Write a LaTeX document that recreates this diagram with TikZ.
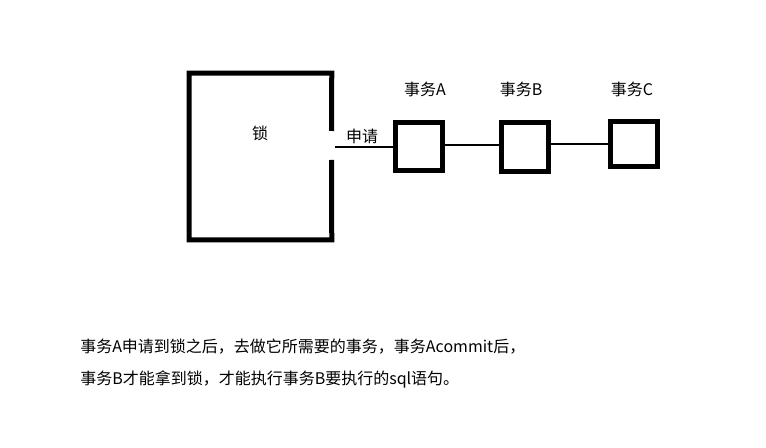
\documentclass[tikz,border=0pt]{standalone}
\usepackage{fontspec}
\setmainfont{Noto Sans CJK SC}
\begin{document}
\begin{tikzpicture}[x=0.75pt,y=-0.75pt,
  txt/.style={inner sep=0pt,font=\fontsize{12pt}{14pt}\selectfont},
  txbox/.style={draw,line width=3.75pt,inner sep=0pt,minimum width=35.25pt},
  conn/.style={line width=1.4pt}]
\useasboundingbox[fill=white] (0,0) rectangle (766,448);
% lock
\node (lock) [inner sep=0pt,minimum width=106.5pt,minimum height=124.5pt] at (260.5,156.5) {};
\coordinate (gapT) at (331.5,131);
\coordinate (gapB) at (331.5,160);
\draw[line width=3.75pt,line join=miter] (gapT) -- (lock.north east) -- (lock.north west) -- (lock.south west) -- (lock.south east) -- (gapB);
\node (lockl) [txt] at (260,133) {锁};
% transactions
\node (A) [txbox,minimum height=36pt] at (419,146.5) {};
\node (B) [txbox,minimum height=36.75pt] at (525,147) {};
\node (C) [txbox,minimum height=33.75pt] at (634,144) {};
\node (Al) [txt] at (425,89) {事务A};
\node (Bl) [txt] at (521,89) {事务B};
\node (Cl) [txt] at (632,89) {事务C};
\coordinate (gap) at (334.5,147);
\draw[conn] (gap) -- (A.west |- gap);
\node (req) [txt] at (362,136) {申请};
\coordinate (ab) at (0,145);
\coordinate (bc) at (0,144);
\draw[conn] (A.east |- ab) -- (B.west |- ab);
\draw[conn] (B.east |- bc) -- (C.west |- bc);
% description
\node (d1) [txt,anchor=base west] at (80,353) {事务A申请到锁之后，去做它所需要的事务，事务Acommit后，};
\node (d2) [txt,anchor=base west] at (80,384) {事务B才能拿到锁，才能执行事务B要执行的sql语句。};
\end{tikzpicture}
\end{document}
